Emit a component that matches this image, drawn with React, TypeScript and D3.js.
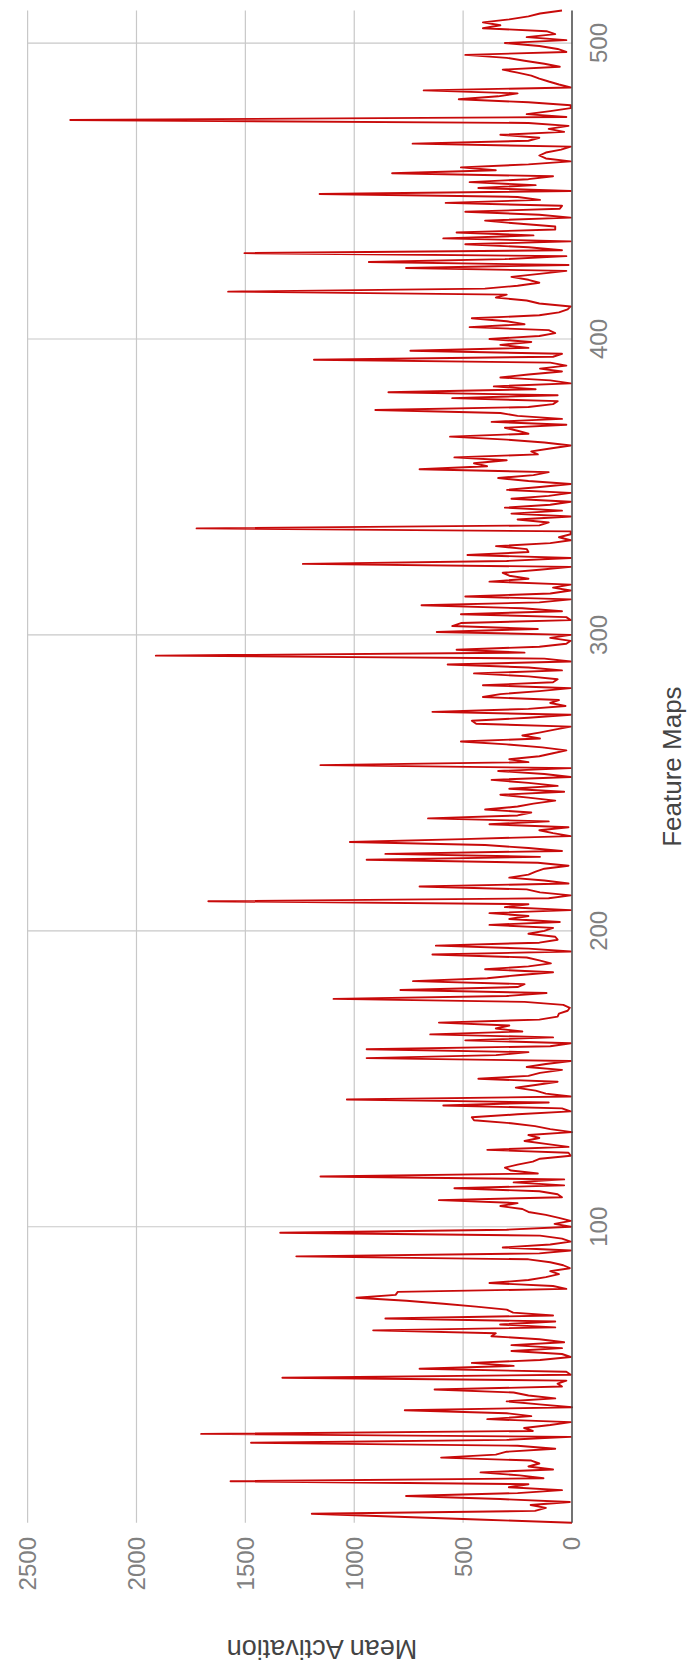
import React from "react";
import * as d3 from "d3";

// Mean activation of each of the 512 feature maps (index 0..511)
const activations: number[] = [
  0, 400, 800, 1195, 170, 120, 190, 10, 330, 762,
  250, 46, 290, 200, 1568, 131, 240, 420, 87, 200,
  150, 187, 601, 350, 300, 77, 250, 1474, 300, 6,
  1703, 180, 220, 100, 6, 389, 187, 300, 768, 0,
  150, 300, 77, 200, 268, 631, 46, 66, 26, 1330,
  6, 26, 700, 268, 460, 147, 6, 46, 278, 46,
  278, 36, 150, 370, 350, 913, 77, 330, 77, 857,
  87, 270, 300, 440, 590, 760, 990, 810, 800, 26,
  87, 379, 200, 120, 60, 100, 10, 40, 100, 200,
  1266, 150, 6, 318, 100, 6, 46, 147, 1340, 300,
  6, 80, 6, 60, 120, 200, 228, 329, 250, 611,
  46, 66, 150, 540, 36, 268, 36, 1155, 157, 280,
  308, 250, 180, 147, 6, 16, 389, 16, 120, 218,
  150, 200, 0, 100, 170, 280, 450, 460, 250, 6,
  46, 591, 107, 1034, 6, 120, 167, 258, 160, 66,
  430, 200, 147, 46, 208, 120, 6, 943, 349, 200,
  943, 100, 6, 490, 87, 651, 228, 350, 288, 611,
  150, 66, 60, 20, 10, 40, 218, 1095, 300, 117,
  788, 250, 218, 730, 389, 250, 87, 399, 200, 97,
  150, 208, 641, 6, 200, 625, 150, 66, 77, 200,
  127, 87, 379, 56, 288, 200, 379, 6, 308, 200,
  1670, 107, 6, 147, 208, 700, 16, 127, 288, 200,
  167, 127, 16, 157, 943, 147, 857, 46, 200, 399,
  1020, 500, 6, 87, 150, 16, 379, 107, 661, 250,
  187, 399, 250, 177, 77, 200, 329, 36, 288, 66,
  200, 369, 6, 127, 339, 6, 1155, 200, 288, 150,
  87, 26, 137, 300, 510, 147, 228, 150, 80, 6,
  440, 460, 200, 6, 641, 200, 30, 100, 60, 409,
  329, 150, 6, 409, 87, 66, 200, 450, 46, 200,
  571, 6, 127, 1911, 218, 530, 150, 26, 6, 100,
  6, 621, 157, 550, 510, 6, 26, 510, 46, 228,
  691, 150, 6, 490, 100, 6, 87, 6, 379, 200,
  288, 318, 150, 6, 1236, 300, 6, 480, 200, 208,
  349, 100, 6, 60, 6, 6, 1724, 150, 107, 250,
  6, 278, 46, 308, 100, 6, 278, 107, 6, 298,
  147, 6, 200, 339, 177, 107, 700, 390, 450, 300,
  540, 157, 187, 100, 6, 127, 300, 560, 200, 250,
  308, 26, 369, 46, 250, 329, 903, 200, 87, 66,
  550, 66, 843, 167, 359, 6, 100, 329, 200, 46,
  147, 26, 100, 1185, 87, 46, 742, 200, 329, 187,
  379, 150, 77, 107, 470, 218, 300, 460, 150, 60,
  20, 6, 150, 208, 350, 300, 1579, 400, 250, 150,
  200, 278, 150, 26, 762, 16, 933, 308, 26, 1504,
  46, 200, 490, 6, 591, 177, 530, 77, 77, 250,
  399, 6, 150, 490, 56, 46, 580, 147, 250, 1159,
  6, 430, 167, 470, 200, 87, 826, 350, 510, 200,
  6, 120, 150, 120, 50, 6, 732, 200, 150, 329,
  36, 107, 16, 200, 2304, 26, 208, 100, 6, 6,
  200, 520, 339, 250, 681, 6, 60, 107, 150, 187,
  250, 318, 56, 127, 218, 300, 490, 26, 66, 150,
  308, 26, 208, 77, 117, 409, 329, 409, 288, 200,
  147, 46,
];

const valueTicks = [0, 500, 1000, 1500, 2000, 2500];
const featureTicks = [100, 200, 300, 400, 500];

const FONT = "'Liberation Sans', Arial, Helvetica, sans-serif";

export default function App() {
  const width = 688;
  const height = 1667;

  // The chart is laid out sideways: activation runs right-to-left, feature index bottom-to-top.
  const x = d3.scaleLinear().domain([0, 2500]).range([572, 27.6]);
  const y = d3.scaleLinear().domain([0, activations.length - 1]).range([1522.7, 10.5]);

  const line = d3
    .line<number>()
    .x((d) => x(d))
    .y((_, i) => y(i));

  const [yTop, yBottom] = [y.range()[1], y.range()[0]];
  const [xLeft, xRight] = [x.range()[1], x.range()[0]];

  return (
    <svg
      width={width}
      height={height}
      style={{ position: "absolute", left: 0, top: 0, background: "#fff" }}
    >
      <rect x={0} y={0} width={width} height={height} fill="#fff" />
      {/* grid lines for activation values */}
      {valueTicks
        .filter((v) => v > 0)
        .map((v) => (
          <line
            key={"gv" + v}
            x1={x(v)}
            x2={x(v)}
            y1={yTop}
            y2={yBottom}
            stroke="#c8c8c8"
            strokeWidth={1.2}
          />
        ))}
      {/* grid lines for feature map index */}
      {featureTicks.map((f) => (
        <line
          key={"gf" + f}
          x1={xLeft}
          x2={xRight}
          y1={y(f)}
          y2={y(f)}
          stroke="#c8c8c8"
          strokeWidth={1.2}
        />
      ))}
      {/* activation series */}
      <path
        d={line(activations) || ""}
        fill="none"
        stroke="#c80a0a"
        strokeWidth={1.9}
        strokeLinejoin="round"
      />
      {/* zero baseline */}
      <line
        x1={x(0)}
        x2={x(0)}
        y1={yTop}
        y2={yBottom}
        stroke="#444"
        strokeWidth={1.5}
      />
      {/* activation tick labels */}
      {valueTicks.map((v) => (
        <text
          key={"tv" + v}
          transform={`translate(${x(v)},1537) rotate(-90)`}
          textAnchor="end"
          dy="0.35em"
          fontFamily={FONT}
          fontSize={24}
          fill="#808080"
        >
          {v}
        </text>
      ))}
      {/* feature index tick labels */}
      {featureTicks.map((f) => (
        <text
          key={"tf" + f}
          transform={`translate(607,${y(f)}) rotate(-90)`}
          textAnchor="middle"
          fontFamily={FONT}
          fontSize={24}
          fill="#808080"
        >
          {f}
        </text>
      ))}
      {/* axis titles */}
      <text
        transform={`translate(681,${(yTop + yBottom) / 2}) rotate(-90)`}
        textAnchor="middle"
        fontFamily={FONT}
        fontSize={26}
        fill="#444"
      >
        Feature Maps
      </text>
      <text
        transform={`translate(322,1640) rotate(180)`}
        textAnchor="middle"
        fontFamily={FONT}
        fontSize={27}
        fill="#444"
      >
        Mean Activation
      </text>
    </svg>
  );
}
